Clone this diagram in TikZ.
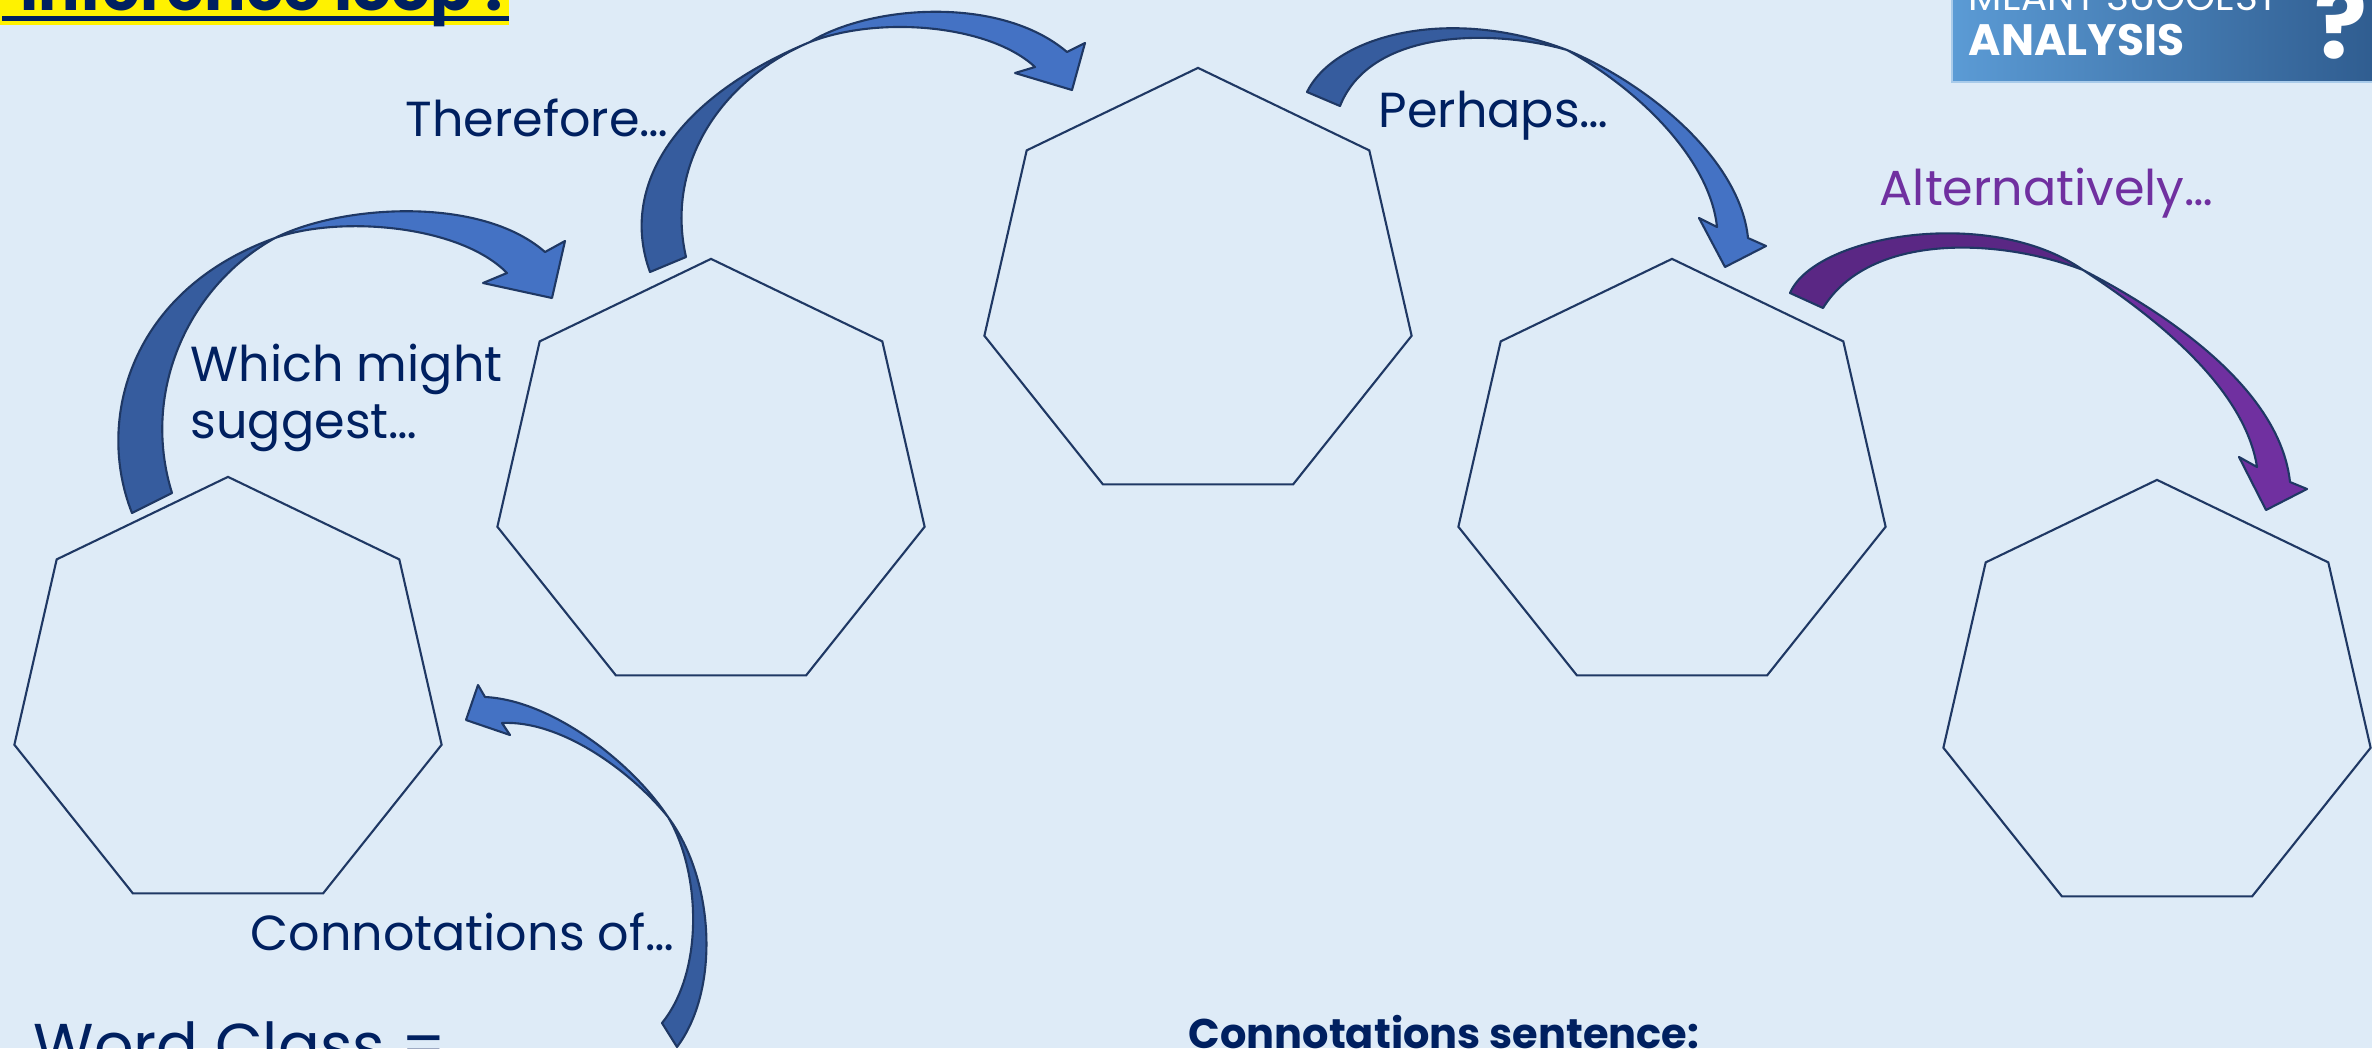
\documentclass[tikz,border=0pt]{standalone}
\usepackage{fontspec}
\setmainfont{Poppins}
\usetikzlibrary{shapes.geometric,positioning}
\definecolor{slide}{HTML}{DEEBF7}
\definecolor{ink}{HTML}{002060}
\definecolor{edge}{HTML}{1F3864}
\definecolor{bandlight}{HTML}{4472C4}
\definecolor{banddark}{HTML}{365C9E}
\definecolor{violetlight}{HTML}{7030A0}
\definecolor{violetdark}{HTML}{5A2784}
\definecolor{badgel}{HTML}{5B9BD5}
\definecolor{badger}{HTML}{2F5C8F}
\definecolor{badgeedge}{HTML}{A9CBEA}
\tikzset{
  hept/.style={draw=edge,regular polygon,regular polygon sides=7,
               minimum size=4.38cm,inner sep=0pt,line width=0.6pt},
  cue/.style={font=\fontsize{14}{16}\selectfont,text=ink,anchor=base west,
              inner sep=0pt,align=left},
  band/.style={draw=edge,line width=0.6pt,line join=round},
}

\begin{document}
\begin{tikzpicture}[x=0.01cm,y=-0.01cm]
  \useasboundingbox (0,0) rectangle (2372,1048);
  \clip (0,0) rectangle (2372,1048);
  \fill[slide] (0,0) rectangle (2372,1048);

  % title, cut by the top edge
  \fill[yellow] (0,-40) rectangle (509,25);
  \fill[ink] (2,16) rectangle (509,21);
  \node[anchor=base west,inner sep=0pt,text=ink,
        font=\fontsize{17.5}{20}\selectfont\bfseries] (title) at (20,10) {Inference loop :};

  % badge
  \shade[left color=badgel,right color=badger] (1952,-5) rectangle (2380,82);
  \draw[badgeedge,line width=0.5pt] (1952,-5) -- (1952,82) -- (2380,82);
  \node[anchor=base west,inner sep=0pt,text=white,
        font=\fontsize{11}{12}\selectfont] (badgetop) at (1968,10) {MEANT SUGGEST};
  \node[anchor=base west,inner sep=0pt,text=white,
        font=\fontsize{12.5}{14}\selectfont\bfseries] (badge) at (1968,55) {ANALYSIS};
  \node[anchor=base west,inner sep=0pt,text=white,
        font=\fontsize{28}{30}\selectfont\bfseries] (query) at (2314,58) {?};

  % heptagons
  \node[hept] (h1) at (228,696) {};
  \node[hept] (h2) at (711,478) {};
  \node[hept] (h3) at (1198,287) {};
  \node[hept] (h4) at (1672,478) {};
  \node[hept] (h5) at (2157,699) {};

  % curved block arrows: back lobe, then front lobe with head
  \filldraw[band,fill=banddark] (677,1047) .. controls (720,990) and (715,880) .. (668,817)
    .. controls (700,870) and (705,970) .. (662,1023) -- cycle;
  \filldraw[band,fill=bandlight] (668,817) .. controls (630,760) and (550,700) .. (485,697)
    -- (478,685) -- (466,720) -- (510,735) -- (502,723)
    .. controls (560,720) and (630,770) .. (668,817) -- cycle;

  \filldraw[band,fill=banddark] (132,513) .. controls (95,420) and (130,290) .. (275,238)
    .. controls (190,285) and (140,390) .. (172,493) -- cycle;
  \filldraw[band,fill=bandlight] (275,238) .. controls (340,205) and (480,195) .. (545,252)
    -- (565,241) -- (552,298) -- (483,283) -- (507,273)
    .. controls (460,225) and (340,215) .. (275,238) -- cycle;

  \filldraw[band,fill=banddark] (650,272) .. controls (620,190) and (670,100) .. (810,42)
    .. controls (720,80) and (665,165) .. (686,257) -- cycle;
  \filldraw[band,fill=bandlight] (810,42) .. controls (870,5) and (1000,-5) .. (1067,52)
    -- (1085,43) -- (1072,90) -- (1015,73) -- (1035,67)
    .. controls (990,25) and (880,15) .. (810,42) -- cycle;

  \filldraw[band,fill=banddark] (1307,92) .. controls (1335,35) and (1450,5) .. (1567,50)
    .. controls (1490,28) and (1370,30) .. (1340,106) -- cycle;
  \filldraw[band,fill=bandlight] (1567,50) .. controls (1650,85) and (1740,160) .. (1748,238)
    -- (1766,246) -- (1725,267) -- (1699,218) -- (1717,227)
    .. controls (1710,160) and (1640,90) .. (1567,50) -- cycle;

  \filldraw[band,fill=violetdark] (1790,293) .. controls (1815,235) and (1990,205) .. (2083,270)
    .. controls (2000,238) and (1870,232) .. (1823,308) -- cycle;
  \filldraw[band,fill=violetlight] (2083,270) .. controls (2170,315) and (2280,390) .. (2290,482)
    -- (2307,489) -- (2266,510) -- (2239,457) -- (2257,467)
    .. controls (2245,390) and (2160,320) .. (2083,270) -- cycle;

  % cue words
  \node[cue] (suggest) at (190,438) {Which might\\suggest…};
  \node[cue] (therefore) at (405,136) {Therefore…};
  \node[cue] (perhaps) at (1378,127) {Perhaps…};
  \node[cue,text=violetlight] (alt) at (1879,205) {Alternatively…};
  \node[cue] (connote) at (250,950) {Connotations of…};

  % footer, cut by the bottom edge
  \node[anchor=base west,inner sep=0pt,text=ink,
        font=\fontsize{17.6}{20}\selectfont] (wordclass) at (33,1067) {Word Class =};
  \node[anchor=base west,inner sep=0pt,text=ink,
        font=\fontsize{11.8}{14}\selectfont\bfseries] (sentence) at (1188,1048) {Connotations sentence:};
\end{tikzpicture}
\end{document}
